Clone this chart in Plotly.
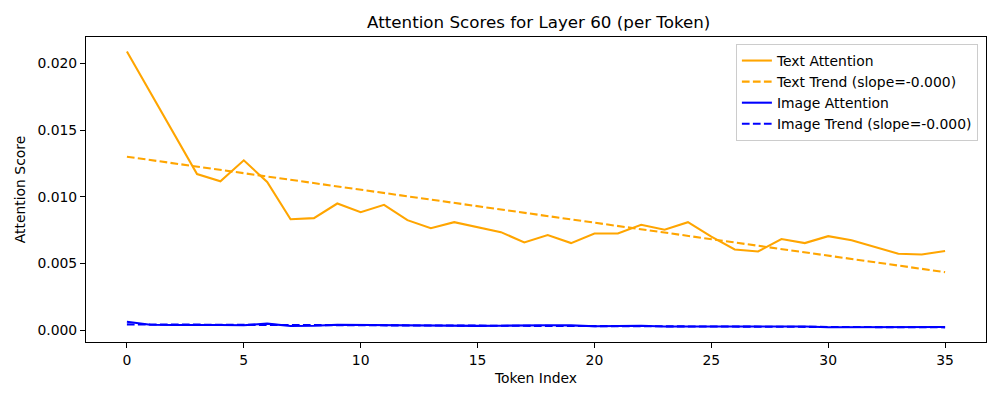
import plotly.graph_objects as go

tokens = list(range(36))
text_attention = [0.0209, 0.0178, 0.0147, 0.0117, 0.01116, 0.01273, 0.0111, 0.00831, 0.00839, 0.00949,
                  0.00884, 0.00939, 0.00824, 0.00764, 0.00809, 0.00769, 0.00734, 0.00657, 0.00712, 0.00652,
                  0.00724, 0.00724, 0.00789, 0.00752, 0.00809, 0.00700, 0.00604, 0.00589, 0.00682, 0.00652,
                  0.00704, 0.00674, 0.00624, 0.00572, 0.00567, 0.00592]
image_attention = [0.00062, 0.00040, 0.00038, 0.00040, 0.00038, 0.00036, 0.00048, 0.00030, 0.00032, 0.00040,
                   0.00038, 0.00034, 0.00032, 0.00033, 0.00030, 0.00031, 0.00032, 0.00035, 0.00036, 0.00035,
                   0.00028, 0.00030, 0.00032, 0.00026, 0.00026, 0.00028, 0.00027, 0.00027, 0.00026, 0.00026,
                   0.00021, 0.00022, 0.00023, 0.00021, 0.00021, 0.00023]
trend_x = [0, 35]
text_trend = [0.0130, 0.00434]
image_trend = [0.00042, 0.00020]

ORANGE = "#FFA500"
BLUE = "#0000FF"
DASH = "7.7px,3.3px"
FONT = "DejaVu Sans"

fig = go.Figure()
fig.add_trace(go.Scatter(x=tokens, y=text_attention, mode="lines", name="Text Attention",
                         line=dict(color=ORANGE, width=2.08)))
fig.add_trace(go.Scatter(x=trend_x, y=text_trend, mode="lines", name="Text Trend (slope=-0.000)",
                         line=dict(color=ORANGE, width=2.08, dash=DASH)))
fig.add_trace(go.Scatter(x=tokens, y=image_attention, mode="lines", name="Image Attention",
                         line=dict(color=BLUE, width=2.08)))
fig.add_trace(go.Scatter(x=trend_x, y=image_trend, mode="lines", name="Image Trend (slope=-0.000)",
                         line=dict(color=BLUE, width=2.08, dash=DASH)))

axis_common = dict(showgrid=False, zeroline=False, showline=True, linecolor="black", linewidth=1,
                   mirror=True, ticks="outside", ticklen=5, tickcolor="black", tickwidth=1,
                   tickfont=dict(family=FONT, size=13.9, color="black"))

fig.update_layout(
    width=992, height=392,
    margin=dict(l=76, r=14, t=29, b=58),
    paper_bgcolor="white", plot_bgcolor="white",
    font=dict(family=FONT, size=13.9, color="black"),
    title=dict(text="Attention Scores for Layer 60 (per Token)", x=0.535, xanchor="center",
               y=0.964, yanchor="middle", font=dict(family=FONT, size=16.7, color="black")),
    xaxis=dict(range=[-1.75, 36.75], tickvals=[0, 5, 10, 15, 20, 25, 30, 35],
               title=dict(text="Token Index", font=dict(family=FONT, size=13.9), standoff=6),
               **axis_common),
    yaxis=dict(range=[-0.0009, 0.02198], tickvals=[0, 0.005, 0.01, 0.015, 0.02], tickformat=".3f",
               title=dict(text="Attention Score", font=dict(family=FONT, size=13.9), standoff=8),
               **axis_common),
    legend=dict(x=0.991, y=0.977, xanchor="right", yanchor="top", bgcolor="rgba(255,255,255,0.8)",
                bordercolor="#cccccc", borderwidth=1, font=dict(family=FONT, size=13.9),
                tracegroupgap=0, itemwidth=30),
    showlegend=True,
)

fig.write_html("out.html")
